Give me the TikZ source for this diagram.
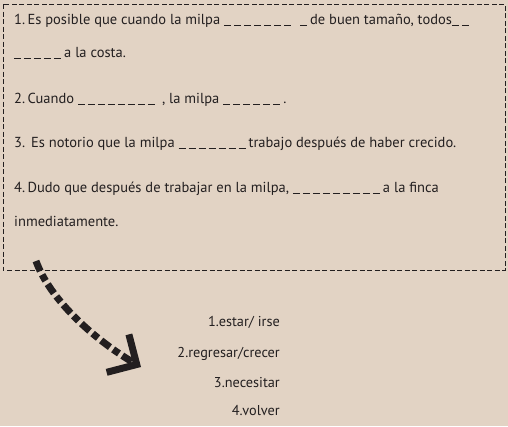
\documentclass[tikz,border=0pt]{standalone}
\usepackage{fontspec}
\setmainfont{PT Sans}
\usepackage{tikz}
\usetikzlibrary{arrows.meta}
\definecolor{paper}{RGB}{226,211,196}
\definecolor{ink}{RGB}{35,31,32}
\newcommand{\bl}{\rule[-2pt]{7pt}{0.9pt}\kern3pt}
\tikzstyle{line} = [anchor=base west, inner sep=0pt, font=\fontsize{14.5}{17}\selectfont, text=ink]
\tikzstyle{verb} = [anchor=base east, inner sep=0pt, font=\fontsize{14.3}{17}\selectfont, text=ink]
\tikzstyle{boxline} = [draw=ink, line width=0.8pt, dash pattern=on 5pt off 2.5pt]
\tikzstyle{bigarrow} = [draw=ink, line width=7pt, dash pattern=on 11pt off 4pt on 7pt off 4pt, -{Straight Barb[length=22pt,width=44pt,line width=7pt]}]

\begin{document}
\begin{tikzpicture}[x=1pt, y=-1pt]
      \fill[paper] (0,0) rectangle (508,426);
      \useasboundingbox (0,0) rectangle (508,426);
      \draw[boxline] (3,4) rectangle (505,270);
      % sentences
      \node[line] (s1) at (14,24) {1.\,Es posible que cuando la milpa \bl\bl\bl\bl\bl\bl\bl\hspace{6pt}\bl de buen tamaño, todos\bl\bl};
      \node[line] (s1b) at (14,57) {\bl\bl\bl\bl\bl a la costa.};
      \node[line] (s2) at (14,103) {2.\,Cuando \bl\bl\bl\bl\bl\bl\bl\bl\hspace{4pt}, la milpa \bl\bl\bl\bl\bl\bl.};
      \node[line] (s3) at (14,147) {3.\hspace{6pt}Es notorio que la milpa \bl\bl\bl\bl\bl\bl\bl trabajo después de haber crecido.};
      \node[line] (s4) at (14,192) {4.\,Dudo que después de trabajar en la milpa, \bl\bl\bl\bl\bl\bl\bl\bl\bl a la finca};
      \node[line] (s4b) at (14,226) {inmediatamente.};
      % verbs
      \node[verb] (v1) at (280,326) {1.estar/ irse};
      \node[verb] (v2) at (280,357) {2.regresar/crecer};
      \node[verb] (v3) at (280,387) {3.necesitar};
      \node[verb] (v4) at (280,415) {4.volver};
      \coordinate (from) at (36,261);
      \coordinate (to) at (141,367);
      \draw[bigarrow] (from) .. controls (50,300) and (95,340) .. (to);
\end{tikzpicture}
\end{document}
